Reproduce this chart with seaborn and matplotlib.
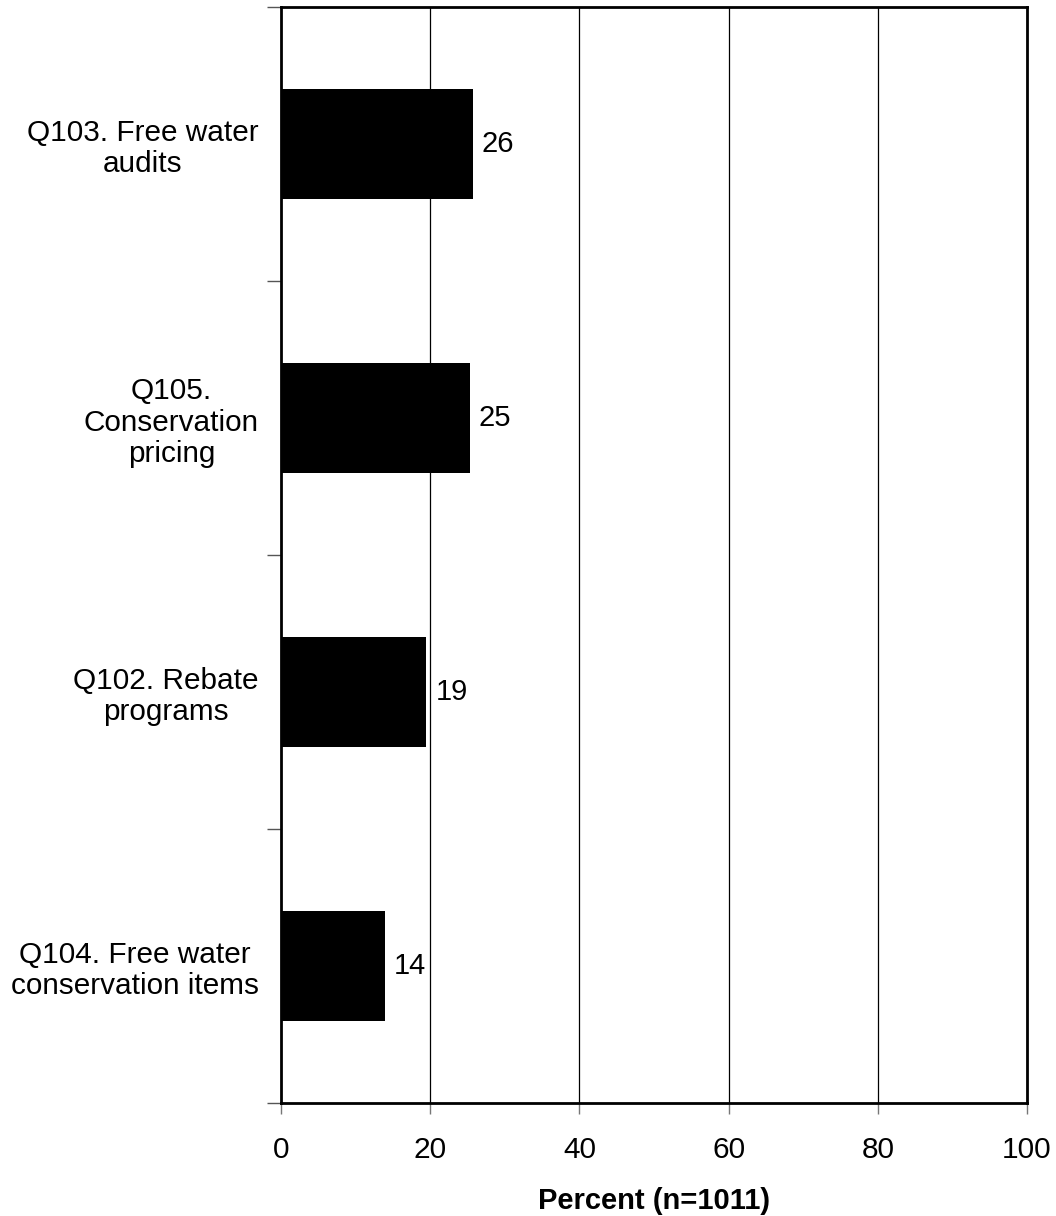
import numpy as np
import pandas as pd
import matplotlib
matplotlib.use("Agg")
import matplotlib.pyplot as plt
import seaborn as sns

# ── Data ──────────────────────────────────────────────────────────────────────
categories = [
    "Q103. Free water\naudits",
    "Q105.\nConservation\npricing",
    "Q102. Rebate\nprograms",
    "Q104. Free water\nconservation items",
]
percent = [25.7, 25.3, 19.5, 13.9]
bar_labels = ["26", "25", "19", "14"]
x_ticks = [0, 20, 40, 60, 80, 100]

df = pd.DataFrame({"item": categories, "pct": percent})

sns.set_style("white")
plt.rcParams["font.family"] = ["Liberation Sans", "DejaVu Sans"]
plt.rcParams["text.color"] = "black"
plt.rcParams["xtick.color"] = "black"
plt.rcParams["ytick.color"] = "black"
plt.rcParams["axes.labelcolor"] = "black"

fig = plt.figure(figsize=(10.56, 12.16), dpi=100)
ax = fig.add_axes([281 / 1056, 1 - 1103 / 1216, (1027 - 281) / 1056, (1103 - 7) / 1216])

sns.barplot(data=df, x="pct", y="item", orient="h", color="black",
            width=0.405, saturation=1, edgecolor="black", linewidth=0,
            ax=ax, zorder=3)

ax.set_xlim(0, 100)
ax.set_ylim(3.5, -0.5)
ax.set_xticks(x_ticks)
ax.set_xticklabels([str(t) for t in x_ticks], fontsize=21.5)
for t in x_ticks[1:]:
    ax.axvline(t, color="black", lw=0.9, zorder=1)

# category labels between boundary ticks
ax.set_yticks(np.arange(len(categories)))
ax.set_yticklabels(categories, fontsize=21.4, multialignment="center", linespacing=1.15)
ax.tick_params(axis="y", which="major", left=True, length=0, pad=16, labelcolor="black")
ax.set_yticks(np.arange(-0.5, len(categories)), minor=True)
ax.tick_params(axis="y", which="minor", left=True, length=10, width=1,
               color="#555555", direction="out")
ax.tick_params(axis="x", bottom=True, length=8, width=1, color="#777777",
               direction="out", pad=16, labelcolor="black")

for i, (v, lbl) in enumerate(zip(percent, bar_labels)):
    ax.text(v + 1.2, i, lbl, va="center", ha="left", fontsize=21)

ax.set_xlabel("Percent (n=1011)", fontsize=21, fontweight="bold", labelpad=16)
ax.set_ylabel("")

for s in ax.spines.values():
    s.set_visible(True)
    s.set_color("black")
    s.set_linewidth(2)

fig.savefig("out.png", dpi=100, facecolor="white")
